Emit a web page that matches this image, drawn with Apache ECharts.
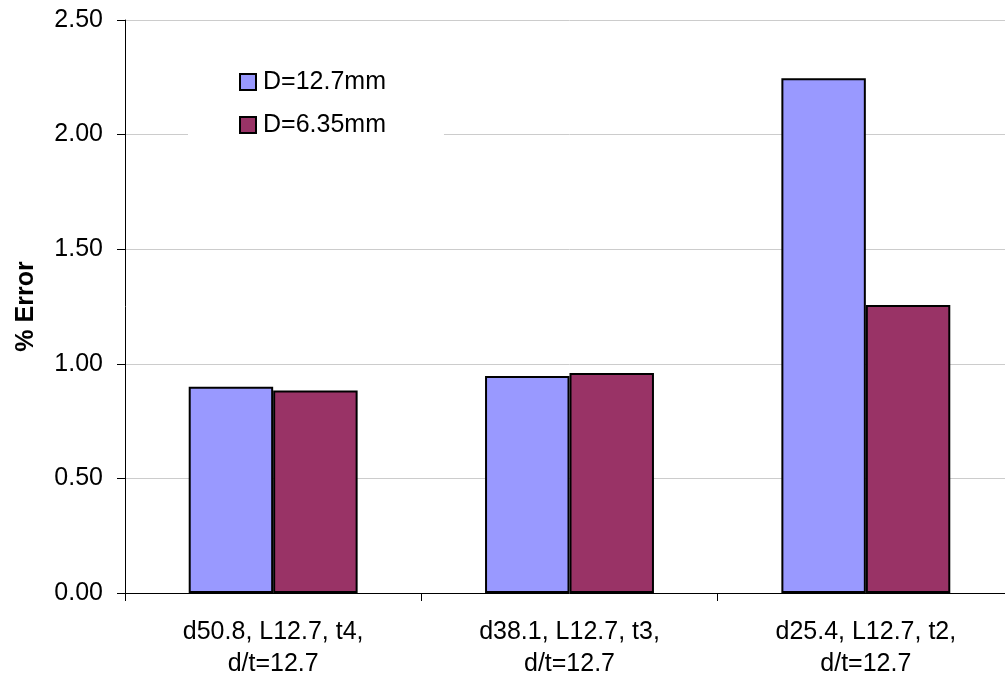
<!DOCTYPE html>
<html>
<head>
<meta charset="utf-8">
<script src="https://cdn.jsdelivr.net/npm/echarts@6/dist/echarts.min.js"></script>
<style>
html,body{margin:0;padding:0;background:#fff;overflow:hidden;width:1005px;height:681px;}
#c{width:1014px;height:681px;}
</style>
</head>
<body>
<div id="c"></div>
<script>
const categories = ["d50.8, L12.7, t4,\nd/t=12.7", "d38.1, L12.7, t3,\nd/t=12.7", "d25.4, L12.7, t2,\nd/t=12.7"];
const seriesNames = ["D=12.7mm", "D=6.35mm"];
const valuesD127 = [0.90, 0.947, 2.246];
const valuesD635 = [0.884, 0.96, 1.257];
const yTicks = { min: 0, max: 2.5, interval: 0.5 };
const yName = "% Error";

const font = "'Liberation Sans', Arial, sans-serif";
const fs = 25;
const chart = echarts.init(document.getElementById('c'), null, { renderer: 'canvas' });
chart.setOption({
  animation: false,
  backgroundColor: '#ffffff',
  textStyle: { fontFamily: font },
  grid: { left: 125, top: 20, right: 0, bottom: 88, containLabel: false },
  legend: {
    orient: 'vertical',
    left: 188, top: 57,
    padding: [12, 58, 12, 51],
    backgroundColor: '#ffffff',
    itemGap: 17,
    itemWidth: 16, itemHeight: 16,
    icon: 'rect',
    textStyle: { fontFamily: font, fontSize: fs, lineHeight: 26, color: '#000', padding: [0, 0, 0, 2] },
    data: seriesNames
  },
  xAxis: {
    type: 'category',
    data: categories,
    axisLine: { lineStyle: { color: '#000', width: 1 } },
    axisTick: { show: true, length: 8, lineStyle: { color: '#000' } },
    axisLabel: { color: '#000', fontSize: fs, fontFamily: font, lineHeight: 32, margin: 23, interval: 0 },
    splitLine: { show: false }
  },
  yAxis: {
    type: 'value',
    min: yTicks.min, max: yTicks.max, interval: yTicks.interval,
    name: yName,
    nameLocation: 'middle',
    nameGap: 86,
    nameRotate: 90,
    nameTextStyle: { color: '#000', fontSize: fs, fontWeight: 'bold', fontFamily: font },
    axisLine: { show: true, lineStyle: { color: '#000', width: 1 } },
    axisTick: { show: true, length: 8, lineStyle: { color: '#000' } },
    axisLabel: { color: '#000', fontSize: fs, fontFamily: font, margin: 22, formatter: v => v.toFixed(2) },
    splitLine: { show: true, lineStyle: { color: '#cccccc', width: 1 } }
  },
  series: [
    {
      name: seriesNames[0], type: 'bar', data: valuesD127,
      barGap: '0%', barCategoryGap: '43%',
      itemStyle: { color: '#9999ff', borderColor: '#000', borderWidth: 2 }
    },
    {
      name: seriesNames[1], type: 'bar', data: valuesD635,
      barGap: '0%', barCategoryGap: '43%',
      itemStyle: { color: '#993366', borderColor: '#000', borderWidth: 2 }
    }
  ]
});
</script>
</body>
</html>
